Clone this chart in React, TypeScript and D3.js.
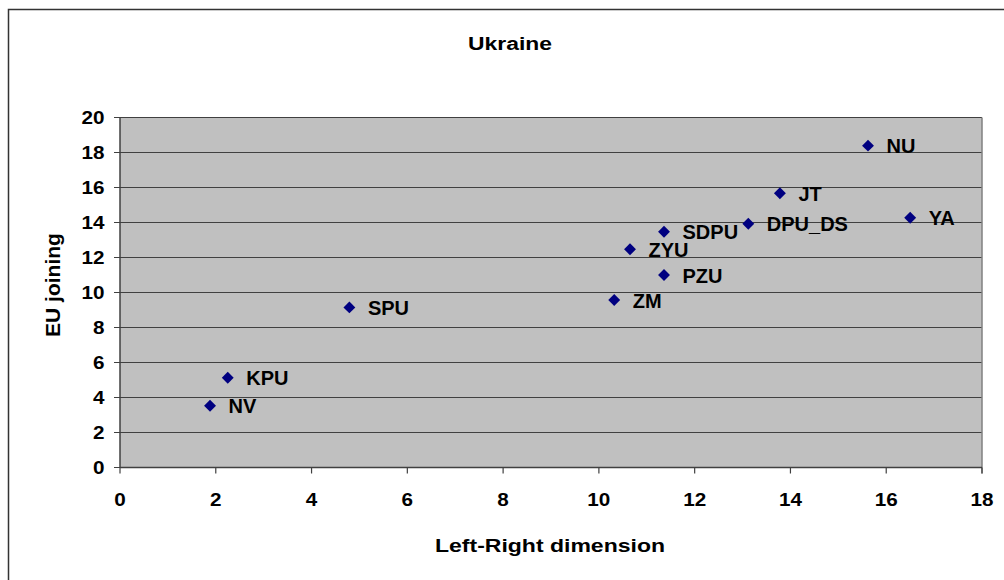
import React from "react";
import * as d3 from "d3";

const parties = ["NV", "KPU", "SPU", "ZM", "ZYU", "PZU", "SDPU", "DPU_DS", "JT", "NU", "YA"];
const leftRight = [1.88, 2.25, 4.79, 10.32, 10.65, 11.36, 11.36, 13.12, 13.78, 15.62, 16.5];
const euJoining = [3.53, 5.13, 9.15, 9.57, 12.47, 11.0, 13.47, 13.93, 15.67, 18.39, 14.27];
const xTicks = [0, 2, 4, 6, 8, 10, 12, 14, 16, 18];
const yTicks = [0, 2, 4, 6, 8, 10, 12, 14, 16, 18, 20];
const title = "Ukraine";
const xTitle = "Left-Right dimension";
const yTitle = "EU joining";

export default function App() {
  const W = 1004, H = 580;
  const x = d3.scaleLinear().domain([0, 18]).range([120, 982]);
  const y = d3.scaleLinear().domain([0, 20]).range([467.5, 117.5]);
  const font = "Arial, 'Liberation Sans', Helvetica, sans-serif";
  const diamond = d3.symbol().type(d3.symbolDiamond2).size(90)();
  return (
    <svg width={W} height={H} style={{ position: "absolute", left: 0, top: 0, background: "#fff" }} fontFamily={font} fontWeight="bold">
      <rect x={8.5} y={9.5} width={1100} height={700} fill="#fff" stroke="#333" strokeWidth={1.5} />
      <rect x={x(0)} y={y(20)} width={x(18) - x(0)} height={y(0) - y(20)} fill="#c0c0c0" />
      {yTicks.map((t) => (
        <line key={"g" + t} x1={x(0) - 6} x2={x(18)} y1={y(t)} y2={y(t)} stroke="#404040" strokeWidth={1.2} />
      ))}
      <line x1={x(18)} x2={x(18)} y1={y(20)} y2={y(0) + 6} stroke="#808080" strokeWidth={1.5} />
      <line x1={x(0)} x2={x(0)} y1={y(20)} y2={y(0)} stroke="#404040" strokeWidth={1.5} />
      <line x1={x(0)} x2={x(18)} y1={y(0)} y2={y(0)} stroke="#404040" strokeWidth={1.5} />
      {xTicks.map((t) => (
        <line key={"xt" + t} x1={x(t)} x2={x(t)} y1={y(0)} y2={y(0) + 6} stroke="#404040" strokeWidth={1.2} />
      ))}
      {yTicks.map((t) => (
        <text key={"yl" + t} x={104.5} y={y(t) + 6.3} textAnchor="end" fontSize={17.5} textLength={String(t).length * 11.5} lengthAdjust="spacingAndGlyphs">{t}</text>
      ))}
      {xTicks.map((t) => (
        <text key={"xl" + t} x={x(t)} y={506} textAnchor="middle" fontSize={17.5} textLength={String(t).length * 11.5} lengthAdjust="spacingAndGlyphs">{t}</text>
      ))}
      {parties.map((p, i) => (
        <g key={p}>
          <path d={diamond} transform={`translate(${x(leftRight[i])},${y(euJoining[i])})`} fill="#000080" />
          <text x={x(leftRight[i]) + 18.5} y={y(euJoining[i]) + 7.5} fontSize={20}>{p}</text>
        </g>
      ))}
      <text x={510} y={50} textAnchor="middle" fontSize={18} textLength={84} lengthAdjust="spacingAndGlyphs">{title}</text>
      <text x={550} y={552} textAnchor="middle" fontSize={19} textLength={230} lengthAdjust="spacingAndGlyphs">{xTitle}</text>
      <text transform={`translate(60,285) rotate(-90)`} textAnchor="middle" fontSize={21}>{yTitle}</text>
    </svg>
  );
}
